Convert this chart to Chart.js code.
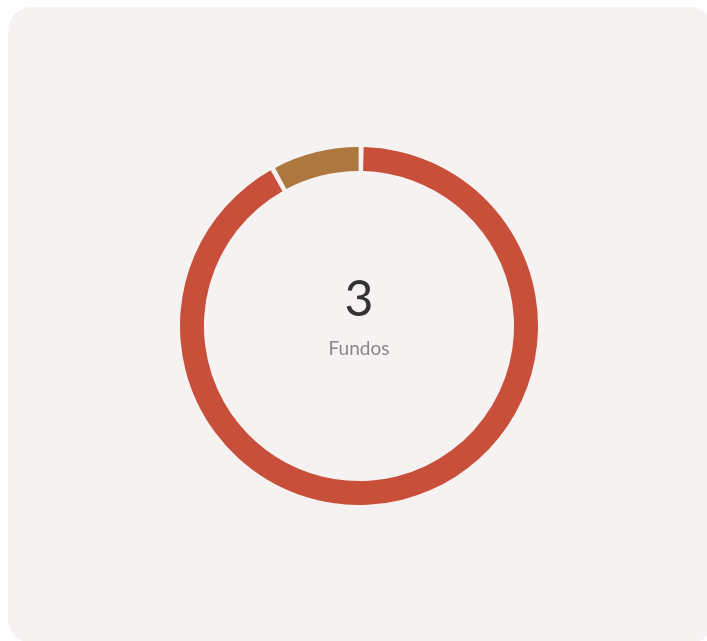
<!DOCTYPE html>
<html>
<head>
<meta charset="utf-8">
<script src="https://cdn.jsdelivr.net/npm/chart.js@4/dist/chart.umd.min.js"></script>
<style>
  html, body { margin: 0; padding: 0; background: #ffffff; width: 707px; height: 641px; overflow: hidden; }
  .card { position: absolute; left: 8px; top: 7px; width: 706px; height: 636px; background: #f6f2f1; border-radius: 24px; }
  .wrap { position: absolute; left: 180px; top: 147px; width: 358px; height: 358px; }
  .center { position: absolute; left: 259px; width: 200px; text-align: center; font-family: Lato, sans-serif; }
  .big { top: 267px; font-size: 50px; font-weight: 400; color: #333333; line-height: 60px; }
  .small { top: 336px; font-size: 19px; color: #888888; line-height: 24px; }
</style>
</head>
<body>
<div class="card"></div>
<div class="wrap"><canvas id="c"></canvas></div>
<div class="center big" id="count"></div>
<div class="center small" id="label"></div>
<script>
const funds = ["Fundo A", "Fundo B"];
const allocation = [92.2, 7.8];
const colors = ["#c8503a", "#ad783f"];
const centerCount = "3";
const centerLabel = "Fundos";

document.getElementById('count').textContent = centerCount;
document.getElementById('label').textContent = centerLabel;

new Chart(document.getElementById('c'), {
  type: 'doughnut',
  data: {
    labels: funds,
    datasets: [{
      data: allocation,
      backgroundColor: colors,
      borderWidth: 0,
      spacing: 3,
      hoverOffset: 0
    }]
  },
  options: {
    responsive: true,
    maintainAspectRatio: false,
    animation: false,
    cutout: '86.5%',
    layout: { padding: 0 },
    plugins: { legend: { display: false }, tooltip: { enabled: false } }
  }
});
</script>
</body>
</html>
